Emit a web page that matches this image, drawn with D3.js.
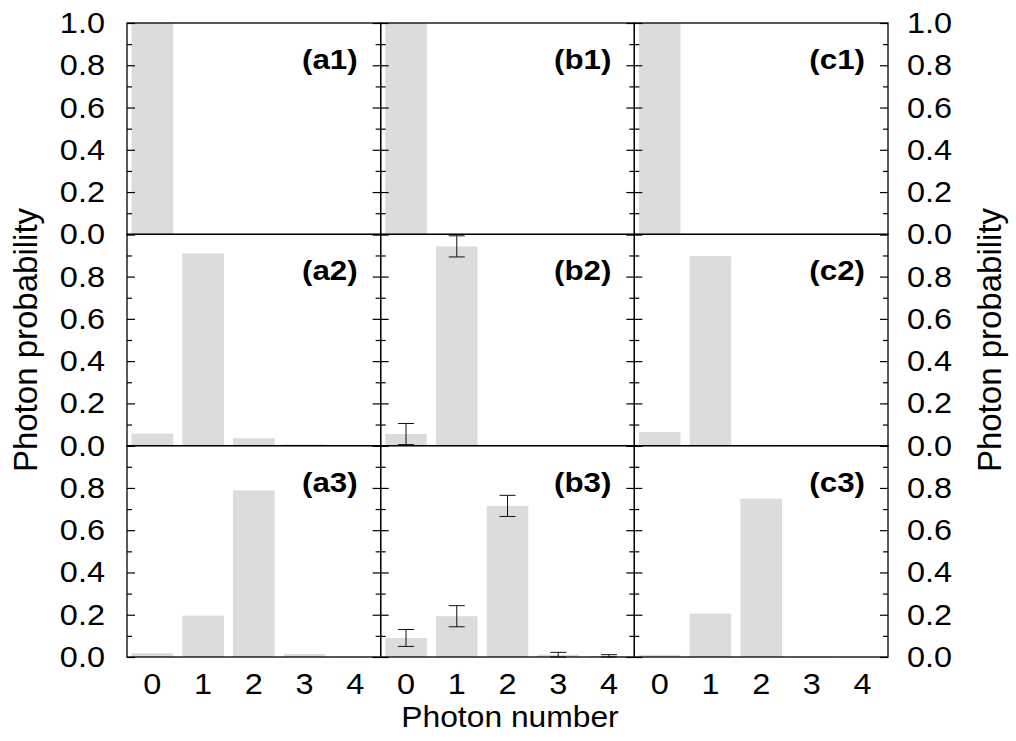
<!DOCTYPE html>
<html>
<head>
<meta charset="utf-8">
<script src="https://cdn.jsdelivr.net/npm/d3@7"></script>
<style>
  html, body { margin: 0; padding: 0; background: #fff; }
  svg { display: block; }
  text { font-family: "Liberation Sans", Arial, Helvetica, sans-serif; fill: #000; }
</style>
</head>
<body>
<svg id="chart" width="1016" height="741"></svg>
<script>
// ---------------- data ----------------
const photonNumbers = [0, 1, 2, 3, 4];
const columns = ["a", "b", "c"];
const rowsIdx = [1, 2, 3];

const a1 = [1.0, 0.0, 0.0, 0.0, 0.0];
const a2 = [0.057, 0.91, 0.035, 0.006, 0.002];
const a3 = [0.018, 0.196, 0.788, 0.014, 0.002];

const b1 = [1.0, 0.0, 0.0, 0.0, 0.0];
const b2 = [0.055, 0.943, 0.0, 0.0, 0.0];
const b2Err = [0.05, 0.05, null, null, null];
const b3 = [0.09, 0.193, 0.715, 0.011, 0.004];
const b3Err = [0.04, 0.05, 0.05, 0.011, 0.007];

const c1 = [1.0, 0.0, 0.0, 0.004, 0.0];
const c2 = [0.064, 0.897, 0.004, 0.004, 0.003];
const c3 = [0.01, 0.205, 0.749, 0.002, 0.001];

const panelValues = { a1, a2, a3, b1, b2, b3, c1, c2, c3 };
const panelErrors = { b2: b2Err, b3: b3Err };

const yTicksTopRow = [0.0, 0.2, 0.4, 0.6, 0.8, 1.0];
const yTicksOtherRows = [0.0, 0.2, 0.4, 0.6, 0.8];
const yMajor = [0, 0.2, 0.4, 0.6, 0.8, 1.0];
const yMinor = [0.1, 0.3, 0.5, 0.7, 0.9];
const yTitle = "Photon probability";
const xTitle = "Photon number";

// ---------------- layout ----------------
const L = 127, R = 888, T = 23, B = 657;
const pw = (R - L) / 3, ph = (B - T) / 3;
const svg = d3.select("#chart");

const colX = d3.scaleBand().domain(columns).range([L, R]);
const rowY = d3.scaleBand().domain(rowsIdx).range([T, B]);

function hText(g, x, y, str, size, sx, anchor, weight) {
  return g.append("text")
    .attr("transform", `translate(${x},${y}) scale(${sx},1)`)
    .attr("text-anchor", anchor)
    .style("font-size", size + "px")
    .style("font-weight", weight || "normal")
    .text(str);
}

const barColor = "#dcdcdc";

columns.forEach(col => {
  const x0 = colX(col);
  const x = d3.scaleBand().domain(photonNumbers).range([x0, x0 + pw])
    .paddingInner(0.18).paddingOuter(0.09);

  rowsIdx.forEach(r => {
    const y0 = rowY(r);
    const y = d3.scaleLinear().domain([0, 1]).range([y0 + ph, y0]);
    const key = col + r;
    const vals = panelValues[key];
    const g = svg.append("g");

    // bars
    g.selectAll("rect.bar").data(photonNumbers).join("rect")
      .attr("class", "bar")
      .attr("x", d => x(d))
      .attr("width", x.bandwidth())
      .attr("y", d => y(vals[d]))
      .attr("height", d => y(0) - y(vals[d]))
      .attr("fill", barColor);

    // error bars
    const errs = panelErrors[key];
    if (errs) {
      const eg = g.append("g").attr("stroke", "#111").attr("stroke-width", 1).attr("fill", "none");
      photonNumbers.filter(d => errs[d] != null).forEach(d => {
        const cx = x(d) + x.bandwidth() / 2;
        const lo = y(Math.max(0, vals[d] - errs[d]));
        const hi = y(vals[d] + errs[d]);
        eg.append("line").attr("x1", cx).attr("x2", cx).attr("y1", lo).attr("y2", hi);
        eg.append("line").attr("x1", cx - 8).attr("x2", cx + 8).attr("y1", lo).attr("y2", lo);
        eg.append("line").attr("x1", cx - 8).attr("x2", cx + 8).attr("y1", hi).attr("y2", hi);
      });
    }

    // inward ticks via d3 axes
    const mk = (axisFn, pos, vals2, size) => {
      const a = g.append("g").attr("transform", `translate(${pos},0)`)
        .call(axisFn(y).tickValues(vals2).tickSize(size).tickFormat(""));
      a.select(".domain").remove();
      a.selectAll("line").attr("stroke", "#000").attr("stroke-width", 1.2);
    };
    mk(d3.axisRight, x0, yMajor, 8);
    mk(d3.axisRight, x0, yMinor, 5);
    mk(d3.axisLeft, x0 + pw, yMajor, 8);
    mk(d3.axisLeft, x0 + pw, yMinor, 5);

    // frame
    g.append("rect").attr("x", x0).attr("y", y0).attr("width", pw).attr("height", ph)
      .attr("fill", "none").attr("stroke", "#000").attr("stroke-width", 1.3);

    // panel label
    hText(g, x0 + pw - 23, y0 + 46, "(" + key + ")", 27, 1.16, "end", "bold");

    // y tick labels on outer sides
    const labs = r === 1 ? yTicksTopRow : yTicksOtherRows;
    if (col === "a") {
      labs.forEach(v => hText(g, 105, y(v) + 10, d3.format(".1f")(v), 29, 1.12, "end"));
    }
    if (col === "c") {
      labs.forEach(v => hText(g, 907, y(v) + 10, d3.format(".1f")(v), 29, 1.12, "start"));
    }
    // x tick labels on bottom row
    if (r === 3) {
      photonNumbers.forEach(d => hText(g, x(d) + x.bandwidth() / 2, 694, String(d), 29, 1.12, "middle"));
    }
  });
});

// axis titles
svg.append("text").attr("transform", "translate(37,340) rotate(-90)")
  .attr("text-anchor", "middle").style("font-size", "33px").text(yTitle);
svg.append("text").attr("transform", "translate(1001,340) rotate(-90)")
  .attr("text-anchor", "middle").style("font-size", "33px").text(yTitle);
hText(svg, 510, 727, xTitle, 30, 1.06, "middle");
</script>
</body>
</html>
